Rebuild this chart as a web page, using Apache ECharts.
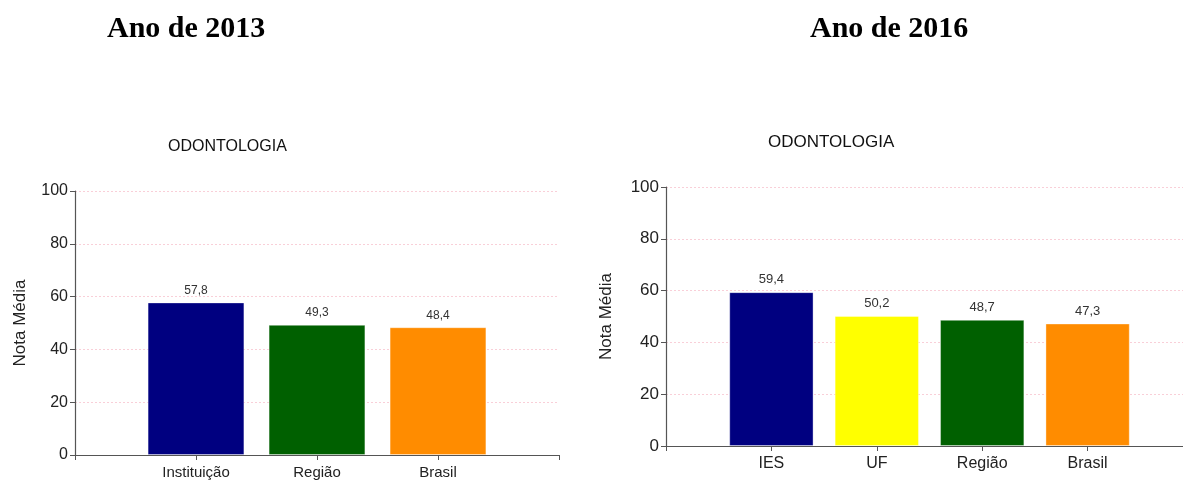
<!DOCTYPE html>
<html>
<head>
<meta charset="utf-8">
<script src="https://cdn.jsdelivr.net/npm/echarts@6/dist/echarts.min.js"></script>
<style>
  html, body { margin: 0; padding: 0; background: #fff; }
  #chart { width: 1183px; height: 481px; }
</style>
</head>
<body>
<div id="chart"></div>
<script>
// Nota média em Odontologia, 2013 e 2016
const categories2013 = ['Instituição', 'Região', 'Brasil'];
const values2013 = [57.8, 49.3, 48.4];
const colors2013 = ['#000080', '#006000', '#FF8C00'];

const categories2016 = ['IES', 'UF', 'Região', 'Brasil'];
const values2016 = [59.4, 50.2, 48.7, 47.3];
const colors2016 = ['#000080', '#FFFF00', '#006000', '#FF8C00'];

const yTicks = [0, 20, 40, 60, 80, 100];

// Blank slot at each end so the bars sit one band in from the axis edges
const padCats = c => ['', ...c, ''];
const padVals = (v, col) => [null, ...v.map((x, i) => ({ value: x, itemStyle: { color: col[i] } })), null];

const fmt = p => p.value == null ? '' : p.value.toFixed(1).replace('.', ',');

function xAxis(gridIndex, cats, fs) {
  return {
    type: 'category', gridIndex, data: padCats(cats), boundaryGap: false,
    axisLine: { lineStyle: { color: '#555', width: 1.2 } },
    axisTick: { show: true, length: 5, lineStyle: { color: '#555' } },
    axisLabel: { color: '#222', fontSize: fs, fontFamily: 'Liberation Sans, Arial', margin: 10, interval: 0 },
    splitLine: { show: false }
  };
}

function yAxis(gridIndex, gap, fs) {
  return {
    type: 'value', gridIndex, min: yTicks[0], max: yTicks[yTicks.length - 1], interval: 20,
    name: 'Nota Média', nameLocation: 'middle', nameGap: gap, nameRotate: 90,
    nameTextStyle: { color: '#222', fontSize: 17, fontFamily: 'Liberation Sans, Arial' },
    axisLine: { show: true, lineStyle: { color: '#555', width: 1.2 } },
    axisTick: { show: true, length: 5, lineStyle: { color: '#555' } },
    axisLabel: { color: '#222', fontSize: fs, fontFamily: 'Liberation Sans, Arial', margin: 7 },
    splitLine: { show: true, lineStyle: { color: '#f9cfd8', type: [2, 2], width: 1 } }
  };
}

function barSeries(idx, vals, cols, fs) {
  return {
    type: 'bar', xAxisIndex: idx, yAxisIndex: idx, barWidth: '80%',
    data: padVals(vals, cols),
    label: {
      show: true, position: 'top', distance: 6, formatter: fmt,
      color: '#333', fontSize: fs, fontFamily: 'Liberation Sans, Arial'
    },
    itemStyle: { borderColor: 'rgba(255,255,255,0.35)', borderWidth: 1 },
    silent: true, animation: false
  };
}

const titleFont = { fontFamily: 'Liberation Serif, Times New Roman', fontWeight: 'bold', fontSize: 30, color: '#000' };
const subFont = { fontFamily: 'Liberation Sans, Arial', fontWeight: 'normal', color: '#111' };

const chart = echarts.init(document.getElementById('chart'), null, { renderer: 'canvas' });
chart.setOption({
  animation: false,
  title: [
    { text: 'Ano de 2013', left: 102, top: 9, textStyle: titleFont },
    { text: 'Ano de 2016', left: 805, top: 9, textStyle: titleFont },
    { text: 'ODONTOLOGIA', left: 163, top: 134, textStyle: Object.assign({ fontSize: 16 }, subFont) },
    { text: 'ODONTOLOGIA', left: 763, top: 129, textStyle: Object.assign({ fontSize: 17 }, subFont) }
  ],
  grid: [
    { left: 75, top: 191, width: 484, height: 264, containLabel: false, outerBoundsMode: 'none' },
    { left: 666, top: 187, width: 527, height: 259, containLabel: false, outerBoundsMode: 'none' }
  ],
  xAxis: [xAxis(0, categories2013, 15), xAxis(1, categories2016, 16)],
  yAxis: [yAxis(0, 46, 16), yAxis(1, 51, 17)],
  series: [barSeries(0, values2013, colors2013, 12), barSeries(1, values2016, colors2016, 13)]
});
</script>
</body>
</html>
